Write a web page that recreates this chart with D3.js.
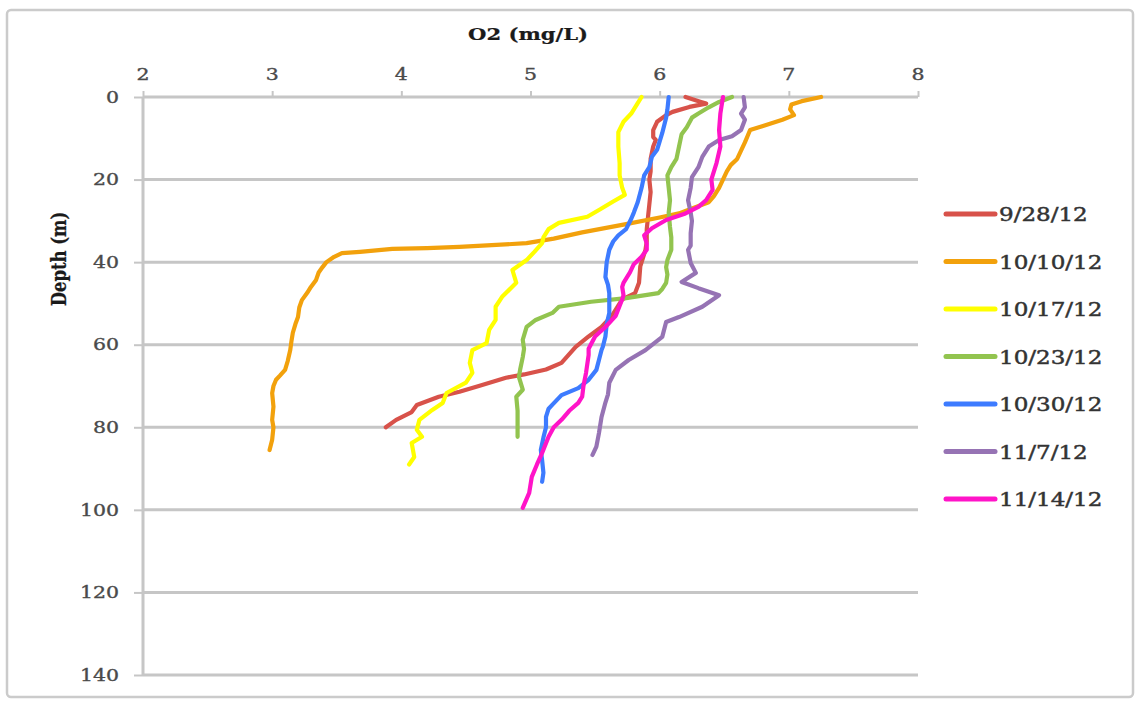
<!DOCTYPE html>
<html>
<head>
<meta charset="utf-8">
<script src="https://cdn.jsdelivr.net/npm/d3@7"></script>
<style>
  html, body { margin: 0; padding: 0; background: #ffffff; }
  svg { display: block; }
</style>
</head>
<body>
<svg id="chart" width="1138" height="702"></svg>
<script>
// Dissolved oxygen profiles: each point is [O2 (mg/L), depth (m)]
const s0928 = [[6.20,0],[6.32,1.2],[6.36,1.6],[6.23,2.4],[6.10,3.6],[6.05,4.4],[5.98,6],[5.95,8],[5.95,9.7],[5.97,10.4],[5.95,12],[5.93,15],[5.93,18],[5.92,20],[5.93,23],[5.92,26],[5.91,29],[5.90,32],[5.90,35],[5.89,37],[5.87,39],[5.85,41],[5.84,45],[5.81,47.5],[5.71,49],[5.63,53],[5.55,55.7],[5.45,58],[5.35,60.5],[5.24,64.4],[5.12,66],[4.95,67.2],[4.81,68],[4.60,70],[4.45,71.4],[4.29,72.6],[4.12,74.6],[4.08,76.3],[3.96,78.2],[3.88,80]];
const s1010 = [[7.25,0],[7.10,1],[7.02,1.8],[7.01,3],[7.04,4.4],[6.95,5.5],[6.80,7],[6.70,8],[6.68,9.5],[6.66,11],[6.63,13],[6.60,15],[6.55,16.5],[6.52,18],[6.49,20],[6.46,22],[6.42,24],[6.38,25.5],[6.25,27],[6.15,28.2],[6.00,29.2],[5.74,30.8],[5.40,32.8],[5.18,34.3],[4.97,35.4],[4.70,35.9],[4.45,36.3],[4.20,36.6],[3.93,36.8],[3.68,37.5],[3.54,37.8],[3.48,38.7],[3.42,40],[3.39,41.2],[3.36,42.5],[3.34,44.3],[3.30,46],[3.27,47.5],[3.23,49.2],[3.21,51],[3.20,53.3],[3.18,55],[3.16,57.1],[3.15,59],[3.14,61.3],[3.12,64],[3.10,66.1],[3.06,67.5],[3.03,68.5],[3.01,70],[3.00,71.7],[3.01,75],[3.00,78.2],[3.01,80],[3.00,83],[2.98,85.5]];
const s1017 = [[5.86,0],[5.83,1.5],[5.78,4],[5.72,6],[5.68,8.5],[5.68,12],[5.69,16],[5.69,19],[5.71,22],[5.73,23.7],[5.64,25.3],[5.54,27.2],[5.44,29],[5.22,30.5],[5.14,32],[5.10,34],[5.09,35.4],[5.03,37.5],[4.97,39.5],[4.86,41.9],[4.89,45],[4.78,48.4],[4.73,50.8],[4.73,54],[4.68,56.4],[4.66,59.6],[4.55,61.3],[4.53,64.4],[4.55,66.8],[4.50,69.2],[4.35,71.7],[4.32,74.1],[4.24,75.8],[4.14,78.2],[4.12,80.6],[4.16,82.3],[4.08,83.8],[4.10,87.2],[4.06,89]];
const s1023 = [[6.56,0],[6.46,1.2],[6.38,2.5],[6.30,4],[6.25,5],[6.21,7.3],[6.17,9],[6.15,12],[6.13,15],[6.09,17],[6.06,19],[6.07,22],[6.08,25],[6.07,28],[6.08,31.5],[6.09,34],[6.09,37],[6.06,39.5],[6.05,41.2],[6.06,43],[6.05,45],[6.02,46.5],[5.99,47.5],[5.74,48.7],[5.47,49.6],[5.22,50.8],[5.17,52.3],[5.04,54],[4.97,55.7],[4.94,58.8],[4.95,61],[4.94,63],[4.92,66],[4.91,67.8],[4.94,70.9],[4.89,72.6],[4.90,76],[4.90,79],[4.90,82.3]];
const s1030 = [[6.07,0],[6.06,3],[6.05,5],[6.02,8.7],[5.98,12.8],[5.94,14.5],[5.92,17],[5.88,19],[5.86,22],[5.83,25.5],[5.80,28],[5.78,29.5],[5.74,32],[5.68,33.5],[5.64,35],[5.61,37],[5.59,40],[5.58,43.6],[5.60,45.5],[5.61,47.5],[5.61,50],[5.61,52.3],[5.59,55],[5.58,58],[5.56,60.5],[5.55,61.3],[5.53,63.7],[5.51,66.1],[5.45,68.5],[5.37,70.5],[5.24,72.2],[5.17,74.5],[5.14,75.5],[5.12,77.5],[5.12,80],[5.10,82.5],[5.08,85.5],[5.09,88],[5.10,91],[5.09,93.2]];
const s1107 = [[6.65,0],[6.66,2.5],[6.63,4],[6.66,5.5],[6.63,8],[6.56,9.5],[6.46,10.4],[6.38,12],[6.33,14.5],[6.30,17],[6.25,19.4],[6.24,22],[6.22,25],[6.24,28],[6.25,30],[6.24,33],[6.24,36],[6.22,37],[6.24,40.2],[6.28,42.6],[6.17,44.8],[6.30,46.3],[6.46,48],[6.33,50.8],[6.15,53.3],[6.05,54.5],[6.02,58.1],[5.89,61.3],[5.76,63.7],[5.66,66.1],[5.61,69.2],[5.60,72],[5.58,74],[5.55,77.5],[5.53,81.4],[5.51,84.7],[5.48,86.7]];
const s1114 = [[6.49,0],[6.47,4],[6.46,8],[6.47,12],[6.44,16],[6.40,20],[6.41,22.5],[6.36,25],[6.30,26.6],[6.20,28.2],[6.05,29.8],[5.94,31.8],[5.88,33.5],[5.90,35.5],[5.90,37],[5.86,38.7],[5.80,40.5],[5.77,42.5],[5.72,45],[5.71,46],[5.72,48],[5.71,49],[5.66,53],[5.58,55.7],[5.50,58],[5.45,61],[5.45,62.5],[5.43,66.8],[5.41,70],[5.40,72.6],[5.37,74.1],[5.30,76],[5.24,78.2],[5.18,80],[5.14,82.3],[5.09,86.2],[5.05,89],[5.01,92],[4.99,95.9],[4.94,99.5]];

const seriesNames  = ["9/28/12", "10/10/12", "10/17/12", "10/23/12", "10/30/12", "11/7/12", "11/14/12"];
const seriesValues = [s0928, s1010, s1017, s1023, s1030, s1107, s1114];
const seriesColors = ["#d8524a", "#f2a10c", "#ffff00", "#92c44f", "#3d7bff", "#9673b4", "#ff14c8"];

const xTicks = [2, 3, 4, 5, 6, 7, 8];
const yTicks = [0, 20, 40, 60, 80, 100, 120, 140];
const xTitle = "O2 (mg/L)";
const yTitle = "Depth (m)";

// text is drawn horizontally widened, like the rest of the figure
const SX = 1.28;
const FONT = "'DejaVu Serif', serif";
const GRID = "#c6c6c6";

const svg = d3.select("#chart");

// outer frame
svg.append("rect")
  .attr("x", 7).attr("y", 10).attr("width", 1126).attr("height", 687)
  .attr("rx", 4).attr("fill", "#fff")
  .attr("stroke", "#cbcbcb").attr("stroke-width", 2.5);

const x = d3.scaleLinear().domain([2, 8]).range([143, 918]);
const y = d3.scaleLinear().domain([0, 140]).range([97, 675]);

function label(g, tx, ty, text, opts) {
  const grp = g.append("g").attr("transform", `translate(${tx},${ty}) scale(${SX},1)` + (opts.rotate ? ` rotate(${opts.rotate})` : ""));
  grp.append("text")
    .attr("x", 0).attr("y", 0)
    .attr("text-anchor", opts.anchor || "start")
    .attr("dominant-baseline", opts.baseline || "auto")
    .attr("font-family", FONT)
    .attr("font-size", opts.size)
    .attr("font-weight", opts.weight || "normal")
    .attr("fill", opts.fill || "#555")
    .attr("stroke", opts.fill || "#555")
    .attr("stroke-width", opts.stroke || 0)
    .text(text);
}

// horizontal gridlines
svg.append("g").selectAll("line").data(yTicks.filter(d => d > 0)).join("line")
  .attr("x1", x(2)).attr("x2", x(8))
  .attr("y1", d => y(d)).attr("y2", d => y(d))
  .attr("stroke", GRID).attr("stroke-width", 3);

// x axis along the top
const xAxis = svg.append("g").attr("transform", `translate(0,${y(0)})`)
  .call(d3.axisTop(x).tickValues(xTicks).tickSize(6).tickFormat(""));
xAxis.select(".domain").attr("stroke", GRID).attr("stroke-width", 3)
  .attr("d", `M${x(2)},0H${x(8)}`);
xAxis.selectAll(".tick line").attr("stroke", GRID).attr("stroke-width", 2);

// y axis on the left
const yAxis = svg.append("g").attr("transform", `translate(${x(2)},0)`)
  .call(d3.axisLeft(y).tickValues(yTicks).tickSize(9).tickFormat(""));
yAxis.select(".domain").attr("stroke", GRID).attr("stroke-width", 3)
  .attr("d", `M0,${y(0)}V${y(140)}`);
yAxis.selectAll(".tick line").attr("stroke", GRID).attr("stroke-width", 2);

const labels = svg.append("g");
xTicks.forEach(v => label(labels, x(v), 80, String(v), { anchor: "middle", size: 16, fill: "#4a4a4a", stroke: 0.35 }));
yTicks.forEach(v => label(labels, 119, y(v), String(v), { anchor: "end", baseline: "central", size: 16, fill: "#4a4a4a", stroke: 0.35 }));

label(labels, 528, 40, xTitle, { anchor: "middle", size: 16.5, weight: "bold", fill: "#1a1a1a", stroke: 0.2 });
label(labels, 58, 259, yTitle, { anchor: "middle", baseline: "central", size: 16.5, weight: "bold", fill: "#1a1a1a", stroke: 0.2, rotate: -90 });

// profiles
const line = d3.line().x(d => x(d[0])).y(d => y(d[1]));
svg.append("g").selectAll("path").data(seriesValues).join("path")
  .attr("d", line)
  .attr("fill", "none")
  .attr("stroke", (d, i) => seriesColors[i])
  .attr("stroke-width", 4.2)
  .attr("stroke-linejoin", "round")
  .attr("stroke-linecap", "round");

// legend
const legend = svg.append("g");
const legY = d3.scalePoint().domain(seriesNames).range([214, 499]);
seriesNames.forEach((name, i) => {
  legend.append("line")
    .attr("x1", 946).attr("x2", 995)
    .attr("y1", legY(name)).attr("y2", legY(name))
    .attr("stroke", seriesColors[i]).attr("stroke-width", 5)
    .attr("stroke-linecap", "round");
  label(legend, 999, legY(name) + 1, name, { baseline: "central", size: 18, fill: "#333333", stroke: 0.45 });
});
</script>
</body>
</html>
